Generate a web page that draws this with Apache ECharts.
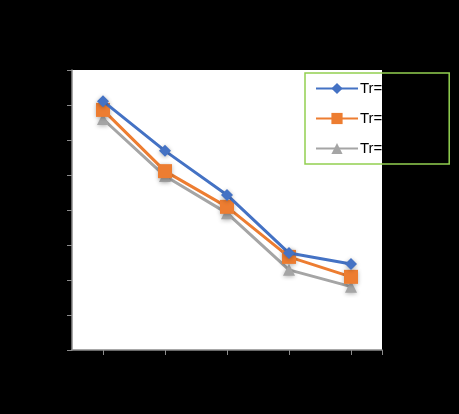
<!DOCTYPE html>
<html>
<head>
<meta charset="utf-8">
<script src="https://cdn.jsdelivr.net/npm/echarts@6/dist/echarts.min.js"></script>
<style>
	html, body { margin: 0; padding: 0; background: #000; }
	#chart { width: 459px; height: 414px; }
</style>
</head>
<body>
<div id="chart"></div>
<script>
	// 横轴位置（类目序号）与标签
	const xPos = [1, 2, 3, 4, 5];
	const xLabels = ['1', '2', '3', '4', '5'];
	// 三条曲线
	const seriesNames = ['Tr=0.5', 'Tr=1.0', 'Tr=1.5'];
	const blueVals = [0.711, 0.569, 0.443, 0.277, 0.246];
	const orangeVals = [0.686, 0.511, 0.409, 0.266, 0.209];
	const grayVals = [0.660, 0.497, 0.391, 0.229, 0.181];
	const colors = ['#4472C4', '#ED7D31', '#A5A5A5'];
	const symbols = ['diamond', 'rect', 'triangle'];
	const symbolSizes = [12, 14, 12];

	const chart = echarts.init(document.getElementById('chart'));
	const allVals = [blueVals, orangeVals, grayVals];

	chart.setOption({
		backgroundColor: '#000',
		animation: false,
		textStyle: { fontFamily: 'Liberation Sans, Arial, sans-serif' },
		grid: {
			left: 72, right: 77, top: 70, bottom: 64,
			show: true, backgroundColor: '#fff', borderWidth: 0
		},
		legend: {
			orient: 'vertical',
			left: 305, top: 73,
			padding: [8, 46, 8, 10],
			itemGap: 15,
			itemWidth: 42, itemHeight: 14,
			borderColor: '#92D050', borderWidth: 1.5,
			textStyle: { color: '#000', fontSize: 15, padding: [0, 0, 0, -3] },
			data: seriesNames
		},
		xAxis: {
			type: 'value',
			min: 0.5, max: 5.5,
			splitLine: { show: false },
			axisLine: { lineStyle: { color: '#8C8C8C', width: 1.5 } },
			axisTick: { customValues: [1, 2, 3, 4, 5, 5.5], length: 5, lineStyle: { color: '#8C8C8C' } },
			axisLabel: {
				customValues: xPos,
				color: '#000',
				formatter: v => xLabels[xPos.indexOf(v)] || ''
			}
		},
		yAxis: {
			type: 'value',
			min: 0, max: 0.8, interval: 0.1,
			splitLine: { show: false },
			axisLine: { show: true, lineStyle: { color: '#8C8C8C', width: 1.5 } },
			axisTick: { show: true, length: 5, lineStyle: { color: '#8C8C8C' } },
			axisLabel: { color: '#000' }
		},
		series: seriesNames.map((name, i) => ({
			name: name,
			type: 'line',
			data: xPos.map((x, j) => [x, allVals[i][j]]),
			symbol: symbols[i],
			symbolSize: symbolSizes[i],
			color: colors[i],
			lineStyle: { width: 3 },
			itemStyle: { shadowBlur: 4, shadowColor: 'rgba(0,0,0,0.3)', shadowOffsetY: 1 },
			z: 3 - i
		}))
	});
</script>
</body>
</html>
